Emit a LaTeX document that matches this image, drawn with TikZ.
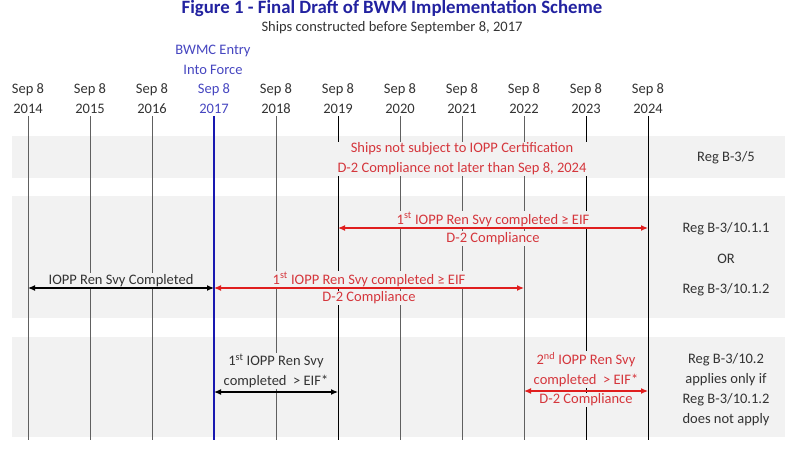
\documentclass[tikz,border=0pt]{standalone}
\usepackage{fontspec}
\setmainfont{Carlito}
\usetikzlibrary{arrows.meta}
\definecolor{bandgray}{HTML}{F2F2F2}
\definecolor{ibred}{HTML}{D5363C}
\definecolor{arrred}{HTML}{E01E1E}
\definecolor{ttlblue}{HTML}{2222A0}
\definecolor{eifblue}{HTML}{1818B0}
\definecolor{txtgray}{HTML}{333333}
\begin{document}
\begin{tikzpicture}[x=1pt,y=-1pt,
    every node/.style={font=\fontsize{14.5}{20}\selectfont, text=txtgray,
      inner sep=1pt, align=center},
    gapfill/.style={fill=bandgray},
    redtxt/.style={text=ibred},
    thinyr/.style={draw=gray!75!black, line width=0.6pt},
    thickyr/.style={draw=black, line width=0.9pt},
    blackarr/.style={draw=black, line width=1.2pt,
      {Latex[length=7pt,width=6pt]}-{Latex[length=7pt,width=6pt]}},
    redarr/.style={blackarr, draw=arrred}]
  \useasboundingbox (0,0) rectangle (800,450);

  % heading
  \node[font=\bfseries\fontsize{18.8}{20}\selectfont, text=ttlblue] (title) at (392,8)
    {Figure 1 - Final Draft of BWM Implementation Scheme};
  \node (subtitle) at (392,28) {Ships constructed before September 8, 2017};
  \node[text=eifblue!80!white] (eif) at (213,60) {BWMC Entry\\Into Force};

  % bands
  \fill[bandgray] (12,136) rectangle (785,178);
  \fill[bandgray] (12,196) rectangle (785,318);
  \fill[bandgray] (12,337) rectangle (785,437);

  % year lines
  \foreach \yr/\st in {2014/thinyr,2015/thinyr,2016/thinyr,2018/thinyr,
      2019/thickyr,2020/thinyr,2021/thinyr,2022/thinyr,2023/thickyr,2024/thickyr} {
    \coordinate (t\yr) at ({28+62*(\yr-2014)},116);
    \coordinate (b\yr) at ({28+62*(\yr-2014)},440);
    \node (s\yr) at (t\yr |- 0,99) {Sep 8\\\yr};
    \draw[\st] (t\yr) -- (b\yr);
  }
  \coordinate (t2017) at (214,116);
  \coordinate (b2017) at (214,440);
  \node[text=eifblue!80!white] (s2017) at (t2017 |- 0,99) {Sep 8\\2017};
  \draw[eifblue, line width=2.4pt] (t2017) -- (b2017);

  % band 1
  \node[gapfill, redtxt] (notiopp) at (462,159)
    {Ships not subject to IOPP Certification\\D-2 Compliance not later than Sep 8, 2024};
  \node (regb35) at (726,158) {Reg B-3/5};

  % band 2
  \coordinate (a19) at (t2019 |- 0,228);
  \coordinate (a24) at (t2024 |- 0,228);
  \coordinate (c14) at (t2014 |- 0,288);
  \coordinate (c17) at (t2017 |- 0,288);
  \coordinate (c22) at (t2022 |- 0,288);
  \draw[redarr] (a19) -- node[gapfill, redtxt, above] (ren1a)
      {1\textsuperscript{st} IOPP Ren Svy completed ≥ EIF}
    node[gapfill, redtxt, below=2.5pt] (d2a) {D-2 Compliance} (a24);
  \draw[blackarr] (c14) -- node[gapfill, above] (rendone) {IOPP Ren Svy Completed} (c17);
  \draw[redarr] (c17) -- node[gapfill, redtxt, above] (ren1b)
      {1\textsuperscript{st} IOPP Ren Svy completed ≥ EIF}
    node[gapfill, redtxt, below=2pt] (d2b) {D-2 Compliance} (c22);
  \node (regb3a) at (726,229) {Reg B-3/10.1.1};
  \node (regor) at (726,259) {OR};
  \node (regb3b) at (726,290) {Reg B-3/10.1.2};

  % band 3
  \coordinate (e17) at (t2017 |- 0,392);
  \coordinate (e19) at (t2019 |- 0,392);
  \coordinate (e22) at (t2022 |- 0,391);
  \coordinate (e24) at (t2024 |- 0,391);
  \draw[blackarr] (e17) -- node[gapfill, above=2.5pt] (ren1c)
      {1\textsuperscript{st} IOPP Ren Svy\\completed~ > EIF*} (e19);
  \draw[redarr] (e22) -- node[gapfill, redtxt, above=2.5pt] (ren2)
      {2\textsuperscript{nd} IOPP Ren Svy\\completed~ > EIF*}
    node[gapfill, redtxt, below=1pt] (d2c) {D-2 Compliance} (e24);
  \node (regb3c) at (726,390)
    {Reg B-3/10.2\\applies only if\\Reg B-3/10.1.2\\does not apply};
\end{tikzpicture}
\end{document}
